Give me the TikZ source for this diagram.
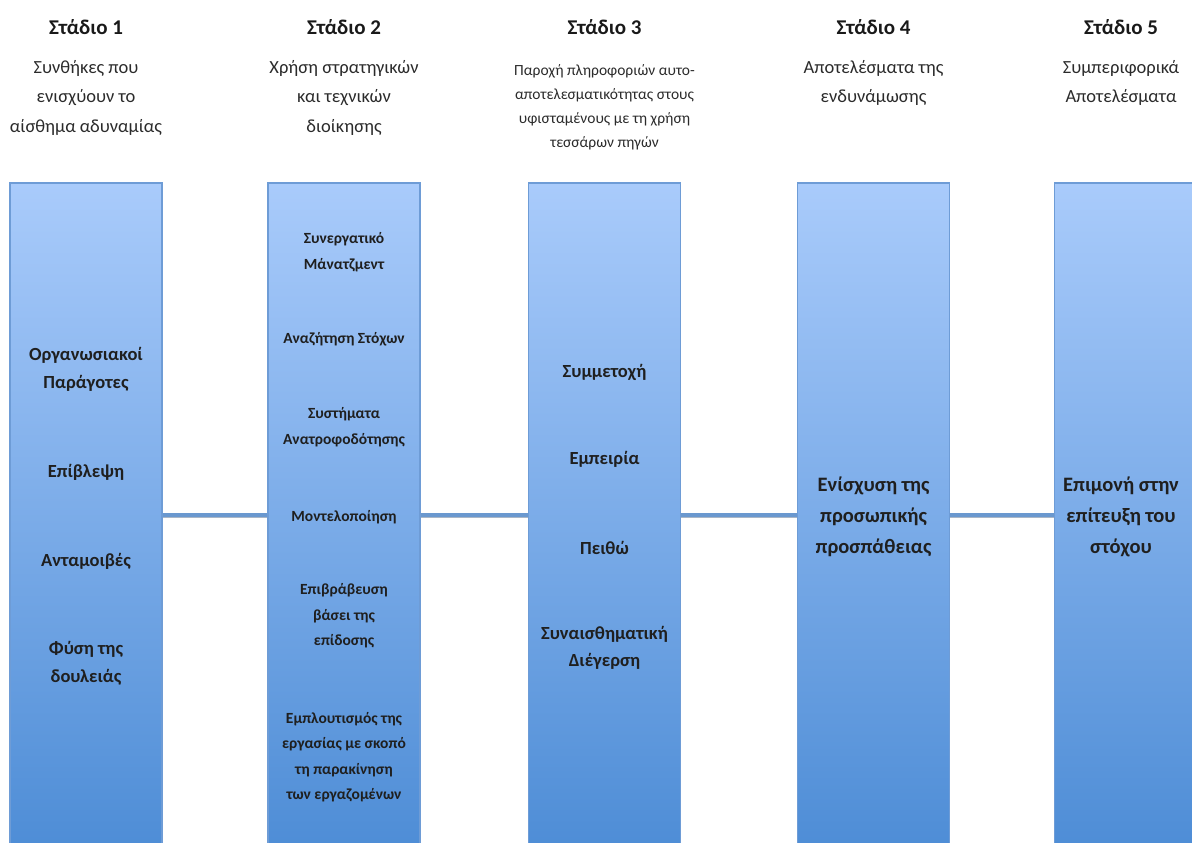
\documentclass[tikz,border=0pt]{standalone}
\usepackage{fontspec}
\setmainfont{Carlito}
\usetikzlibrary{shadings}
\definecolor{colTop}{HTML}{A9CBFB}
\definecolor{colBot}{HTML}{4E8DD6}
\definecolor{colEdge}{HTML}{6E9CD6}
\definecolor{linkBlue}{HTML}{6A98CF}
\definecolor{linkShade}{HTML}{A9B6C6}
\definecolor{subText}{HTML}{2B2B2B}
\tikzset{
  column/.style={rectangle, inner sep=0pt, minimum width=152pt, minimum height=664pt,
    top color=colTop, bottom color=colBot, draw=colEdge, line width=1.2pt},
  stagetitle/.style={font=\fontsize{21}{25}\selectfont\bfseries, text=black!90},
  stagesub/.style={font=\fontsize{18.5}{29.5}\selectfont, text=subText, align=center, inner sep=0pt},
  stagesubsmall/.style={font=\fontsize{15.5}{24}\selectfont, text=subText, align=center, inner sep=0pt},
  itemA/.style={font=\fontsize{18.5}{28}\selectfont\bfseries, text=black!88, align=center, inner sep=0pt},
  itemB/.style={font=\fontsize{15.5}{25.5}\selectfont\bfseries, text=black!88, align=center, inner sep=0pt},
  itemC/.style={font=\fontsize{18.5}{27}\selectfont\bfseries, text=black!88, align=center, inner sep=0pt},
  itemD/.style={font=\fontsize{20.5}{31}\selectfont\bfseries, text=black!88, align=center, inner sep=0pt},
  link/.style={draw=linkBlue, line width=3.4pt},
  linkshadow/.style={draw=linkShade, line width=3pt},
}
\begin{document}
\begin{tikzpicture}[x=1pt,y=-1pt]
\useasboundingbox (0,0) rectangle (1192,843);
\begin{scope}
\clip (0,0) rectangle (1192,843);

% the five stage columns
\node[column] (c1) at (86,515) {};
\node[column] (c2) at (344,515) {};
\node[column] (c3) at (604.5,515) {};
\node[column] (c4) at (873.5,515) {};
\node[column, minimum width=140pt, anchor=west] (c5) at (1054,515) {};

% connectors between neighbouring columns, each with a soft shadow below
\foreach \a/\b in {c1/c2,c2/c3,c3/c4,c4/c5}{
  \draw[linkshadow] ([yshift=-1.8pt]\a.east) -- ([yshift=-1.8pt]\b.west);
  \draw[link] (\a.east) -- (\b.west);
}
\end{scope}

% stage titles
\node[stagetitle] (t1) at (86,27) {Στάδιο 1};
\node[stagetitle] (t2) at (344,27) {Στάδιο 2};
\node[stagetitle] (t3) at (604.5,27) {Στάδιο 3};
\node[stagetitle] (t4) at (873.5,27) {Στάδιο 4};
\node[stagetitle] (t5) at (1121,27) {Στάδιο 5};

% stage descriptions
\node[stagesub, anchor=north] (s1) at (86,60) {Συνθήκες που\\ενισχύουν το\\αίσθημα αδυναμίας};
\node[stagesub, anchor=north] (s2) at (344,60) {Χρήση στρατηγικών\\και τεχνικών\\διοίκησης};
\node[stagesubsmall, anchor=north] (s3) at (604.5,64) {Παροχή πληροφοριών αυτο-\\αποτελεσματικότητας στους\\υφισταμένους με τη χρήση\\τεσσάρων πηγών};
\node[stagesub, anchor=north] (s4) at (873.5,60) {Αποτελέσματα της\\ενδυνάμωσης};
\node[stagesub, anchor=north] (s5) at (1121,60) {Συμπεριφορικά\\Αποτελέσματα};

% stage 1 contents
\node[itemA] (a1) at (86,369) {Οργανωσιακοί\\Παράγοτες};
\node[itemA] (a2) at (86,472) {Επίβλεψη};
\node[itemA] (a3) at (86,561) {Ανταμοιβές};
\node[itemA] (a4) at (86,663) {Φύση της\\δουλειάς};

% stage 2 contents
\node[itemB] (b1) at (344,252) {Συνεργατικό\\Μάνατζμεντ};
\node[itemB] (b2) at (344,339) {Αναζήτηση Στόχων};
\node[itemB] (b3) at (344,427) {Συστήματα\\Ανατροφοδότησης};
\node[itemB] (b4) at (344,517) {Μοντελοποίηση};
\node[itemB] (b5) at (344,616) {Επιβράβευση\\βάσει της\\επίδοσης};
\node[itemB] (b6) at (344,757) {Εμπλουτισμός της\\εργασίας με σκοπό\\τη παρακίνηση\\των εργαζομένων};

% stage 3 contents
\node[itemC] (d1) at (604.5,372) {Συμμετοχή};
\node[itemC] (d2) at (604.5,459) {Εμπειρία};
\node[itemC] (d3) at (604.5,548) {Πειθώ};
\node[itemC] (d4) at (604.5,648) {Συναισθηματική\\Διέγερση};

% stage 4 and 5 contents
\node[itemD] (e1) at (873.5,517) {Ενίσχυση της\\προσωπικής\\προσπάθειας};
\node[itemD] (f1) at (1121,517) {Επιμονή στην\\επίτευξη του\\στόχου};
\end{tikzpicture}
\end{document}
